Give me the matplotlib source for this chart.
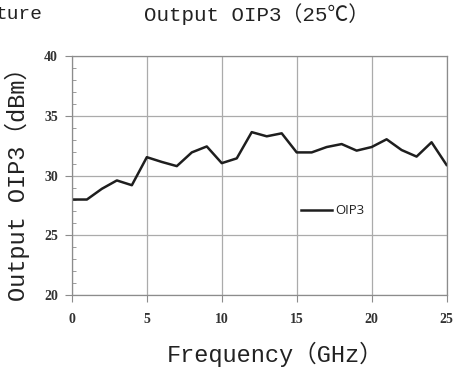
import matplotlib
matplotlib.use("Agg")
import matplotlib.pyplot as plt
from matplotlib.ticker import MultipleLocator

freq = list(range(0, 26))
oip3 = [28.0, 28.0, 28.9, 29.6, 29.2, 31.55, 31.15, 30.8, 31.95, 32.45, 31.05, 31.45,
        33.65, 33.3, 33.55, 31.95, 31.95, 32.4, 32.65, 32.1, 32.4, 33.05, 32.15, 31.6,
        32.8, 30.9]
xticks = [0, 5, 10, 15, 20, 25]
yticks = [20, 25, 30, 35, 40]
series_name = "OIP3"
title = "Output OIP3（25℃）"
xlabel = "Frequency（GHz）"
ylabel = "Output OIP3（dBm）"

mono = ['Liberation Mono', 'Noto Sans CJK SC', 'DejaVu Sans']

fig = plt.figure(figsize=(4.58, 3.71), dpi=100)
ax = fig.add_axes([0.157, 0.205, 0.818, 0.643])
ax.plot(freq, oip3, color='#1e1e1e', lw=1.8, label=series_name)
ax.set_xlim(0, 25)
ax.set_ylim(20, 40)
ax.set_xticks(xticks)
ax.set_yticks(yticks)
ax.yaxis.set_minor_locator(MultipleLocator(1))
ax.grid(True, which='major', color='#ababab', lw=0.9)
for s in ax.spines.values():
    s.set_color('#8c8c8c')
    s.set_linewidth(0.9)
ax.tick_params(which='major', direction='out', length=5, color='#8c8c8c',
               labelcolor='#333333', labelsize=10, pad=5)
ax.tick_params(which='minor', axis='y', direction='in', length=3, color='#8c8c8c')
for lab in ax.get_xticklabels() + ax.get_yticklabels():
    lab.set_family('Liberation Serif')
    lab.set_fontweight('bold')
ax.tick_params(axis='x', pad=8)

ax.set_xlabel(xlabel, fontsize=17, family=mono, color='#222222')
ax.xaxis.set_label_coords(0.543, -0.195)
ax.set_ylabel(ylabel, fontsize=17, family=mono, color='#222222')
ax.yaxis.set_label_coords(-0.112, 0.49)
fig.text(0.56, 0.962, title, ha='center', va='center', fontsize=15, family=mono, color='#222222')
fig.text(-0.01, 0.962, "ture", ha='left', va='center', fontsize=14, family=mono, color='#222222')

leg = ax.legend(loc='center left', bbox_to_anchor=(0.612, 0.353), frameon=False,
                prop={'family': 'Open Sans', 'size': 9.5}, handlelength=2.3,
                handletextpad=0.3, borderpad=0, borderaxespad=0)
for t in leg.get_texts():
    t.set_color('#222222')

fig.savefig('out.png', dpi=100)
